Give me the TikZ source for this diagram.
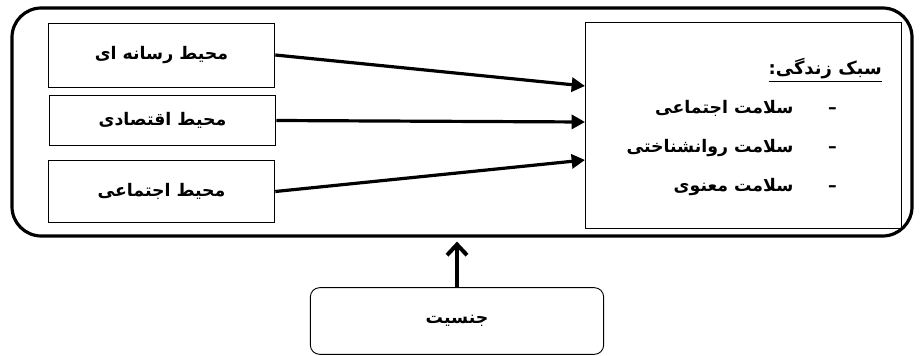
\documentclass[tikz,border=0pt]{standalone}
\usepackage{fontspec}
\newfontfamily\farsi[Script=Arabic]{DejaVu Sans}
\TeXXeTstate=1
\usetikzlibrary{arrows.meta}

\newcommand{\fa}[1]{{\farsi\bfseries\beginR #1\endR}}

\begin{document}
\begin{tikzpicture}[x=0.75pt, y=-0.75pt]

            \tikzstyle{frameNode} = [draw, line width=2.4pt, rounded corners=22pt, inner sep=0pt];
            \tikzstyle{factorNode} = [draw, line width=0.7pt, inner sep=0pt, minimum width=170pt, font=\fontsize{13}{15}\selectfont];
            \tikzstyle{lifeNode} = [draw, line width=0.7pt, inner sep=0pt, minimum width=237pt, minimum height=154pt];
            \tikzstyle{itemNode} = [inner sep=0pt, anchor=east, font=\fontsize{13}{15}\selectfont];
            \tikzstyle{genderNode} = [draw, line width=0.7pt, rounded corners=7pt, inner sep=0pt, minimum width=220pt, minimum height=50pt, font=\fontsize{13}{15}\selectfont];
            \tikzstyle{mainEdge} = [line width=2.4pt, -{Triangle[length=10pt, width=10.5pt]}];
            \tikzstyle{genderEdge} = [line width=3pt, -{Straight Barb[length=8pt, width=15pt]}];

            \useasboundingbox (0,0) rectangle (922,356);

            \node[frameNode, minimum width=675pt, minimum height=171pt] (frame) at (462,122) {};

            \node[factorNode, minimum height=48pt] (media)    at (161.5,55) {\fa{محیط رسانه ای}};
            \node[factorNode, minimum height=38pt] (economy)  at (162.5,120.5) {\fa{محیط اقتصادی}};
            \node[factorNode, minimum height=46pt] (society)  at (161.5,191.5) {\fa{محیط اجتماعی}};

            \node[lifeNode] (life) at (743,125.5) {};

            \node[itemNode, font=\fontsize{13.5}{15}\selectfont] (title) at (882,70) {\underline{\fa{سبک زندگی:}}};
            \node[itemNode] (healthA) at (837,108) {\fa{–\hspace{26pt}سلامت اجتماعی}};
            \node[itemNode] (healthB) at (837,148) {\fa{–\hspace{26pt}سلامت روانشناختی}};
            \node[itemNode] (healthC) at (837,187) {\fa{–\hspace{26pt}سلامت معنوی}};

            \node[genderNode] (gender) at (457,321) {\fa{جنسیت}};

            \coordinate (inA) at (585,86);
            \coordinate (inB) at (585,122);
            \coordinate (inC) at (585,160);

            \draw[mainEdge] (media.east) -- (inA);
            \draw[mainEdge] (economy.east) -- (inB);
            \draw[mainEdge] (society.east) -- (inC);

            \draw[genderEdge] (gender.north) -- ([yshift=-3pt]gender.north |- frame.south);
\end{tikzpicture}
\end{document}
